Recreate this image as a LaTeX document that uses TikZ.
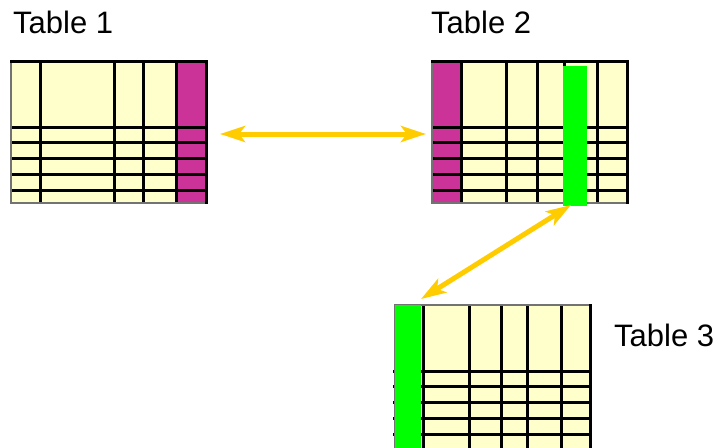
\documentclass[tikz,border=0pt]{standalone}
\usepackage{fontspec}
\setmainfont{Liberation Sans}
\usetikzlibrary{arrows.meta}
\definecolor{cellfill}{HTML}{FFFFCC}
\definecolor{keymag}{HTML}{CC3399}
\definecolor{keygreen}{HTML}{00FF00}
\definecolor{linkgold}{HTML}{FFCC00}
\tikzset{
  gridline/.style={line width=3pt, black},
  shadeedge/.style={line width=2pt, black!55},
  tablebody/.style={fill=cellfill, draw=none, inner sep=0pt, anchor=north west},
  keycol/.style={inner sep=0pt, anchor=north west, draw=none},
  goldtip/.tip={Stealth[length=25pt, width=16pt, inset=6pt]},
  link/.style={draw=linkgold, line width=5pt, goldtip-goldtip},
  caption/.style={anchor=base west, inner sep=0pt, font=\fontsize{31}{31}\selectfont}
}
\begin{document}
\begin{tikzpicture}[x=1pt, y=-1pt]
  \useasboundingbox[fill=white] (0,0) rectangle (720,447);

  % captions
  \node[caption] (c1) at (13,33) {Table 1};
  \node[caption] (c2) at (431,33) {Table 2};
  \node[caption] (c3) at (614,346) {Table 3};

  % ---- Table 1 ----
  \node[tablebody, minimum width=195pt, minimum height=142pt] (t1) at (11,61) {};
  \node[keycol, fill=keymag, minimum width=30pt, minimum height=142pt] (k1) at (176,61) {};
  \foreach \x in {40,114,143,176} \draw[gridline] (\x,61) -- (\x,204);
  \foreach \y in {127,142,158,174,190} \draw[gridline] (11,\y) -- (206,\y);
  \draw[shadeedge] (11,61) -- (11,203) -- (206,203);
  \draw[gridline] (10,61) -- (206,61) -- (206,204);

  % ---- Table 2 ----
  \node[tablebody, minimum width=195pt, minimum height=142pt] (t2) at (432,61) {};
  \node[keycol, fill=keymag, minimum width=29pt, minimum height=142pt] (k2) at (432,61) {};
  \foreach \x in {461,506,537,564,597} \draw[gridline] (\x,61) -- (\x,204);
  \foreach \y in {127,142,158,174,190} \draw[gridline] (432,\y) -- (627,\y);
  \draw[shadeedge] (432,61) -- (432,203) -- (627,203);
  \draw[gridline] (431,61) -- (627,61) -- (627,204);
  \node[keycol, fill=keygreen, minimum width=24pt, minimum height=140pt] (g2) at (563,66) {};

  % ---- Table 3 ----
  \node[tablebody, minimum width=195pt, minimum height=143pt] (t3) at (395,305) {};
  \foreach \x in {423,469,501,527,561} \draw[gridline] (\x,305) -- (\x,448);
  \foreach \y in {371,386,402,418,434} \draw[gridline] (393,\y) -- (590,\y);
  \draw[shadeedge] (395,448) -- (395,305) -- (590,305);
  \draw[gridline] (590,304) -- (590,448);
  \node[keycol, fill=keygreen, minimum width=26pt, minimum height=143pt] (g3) at (395,305) {};

  % ---- links ----
  \coordinate (l1a) at (220,134);
  \coordinate (l1b) at (426,134);
  \coordinate (l2a) at (571,205);
  \coordinate (l2b) at (421,299);
  \draw[link] (l1a) -- (l1b);
  \draw[link] (l2a) -- (l2b);
\end{tikzpicture}
\end{document}
